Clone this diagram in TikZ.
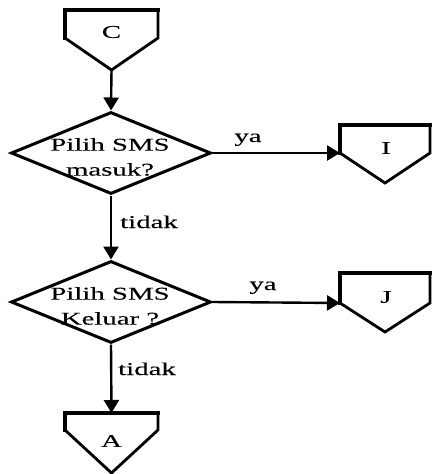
\documentclass[tikz,border=0pt]{standalone}
\usepackage{fontspec}
\setmainfont{Liberation Serif}
\newfontfamily\widefont[FakeStretch=1.6,FakeBold=0.2]{Liberation Serif}
\usetikzlibrary{shapes.geometric,arrows.meta}

\tikzset{
  conn/.style={line width=2.4pt, -{Triangle[length=13pt,width=15pt]}},
  dec/.style={diamond, draw, line width=3pt, minimum width=200pt,
              minimum height=82pt, inner sep=0pt},
  txt/.style={font=\widefont\fontsize{18}{25}\selectfont, align=center, inner sep=0pt},
  lbl/.style={font=\widefont\fontsize{18}{20}\selectfont, inner sep=0pt},
  pent/.style={line width=2.8pt, line join=miter},
  pentedge/.style={line width=4.5pt, line cap=rect},
}

% off-page connector: name, left x, right x, top y, corner y, tip y
\newcommand\offpage[6]{%
  \coordinate (#1-nw) at (#2,#4);
  \coordinate (#1-ne) at (#3,#4);
  \coordinate (#1-se) at (#3,#5);
  \coordinate (#1-sw) at (#2,#5);
  \coordinate (#1-tip) at ({(#2+#3)/2},#6);
  \coordinate (#1-top) at ({(#2+#3)/2},#4);
  \draw[pent] (#1-nw) -- (#1-ne) -- (#1-se) -- (#1-tip) -- (#1-sw) -- cycle;
  \draw[pentedge] (#1-sw) -- (#1-nw) -- (#1-ne);
}

\begin{document}
\begin{tikzpicture}[x=1pt, y=-1pt]
  \useasboundingbox (0,0) rectangle (432,474);

  % connectors to other pages
  \offpage{C}{65}{158}{10}{38}{70}
  \offpage{I}{340}{430}{125}{153}{183}
  \offpage{J}{340}{430}{273}{303}{332}
  \offpage{A}{65}{158}{413}{430}{473}
  \node[txt] (Ct) at (111.5,32) {C};
  \node[txt] (It) at (386,148) {I};
  \node[txt] (Jt) at (386,297) {J};
  \node[txt] (At) at (111.5,441) {A};

  % decisions
  \node[dec] (D1) at (111,153) {};
  \node[txt] (D1t) at (110,157) {Pilih SMS\\masuk?};
  \node[dec] (D2) at (111,302) {};
  \node[txt] (D2t) at (110,306) {Pilih SMS\\Keluar ?};

  % flow
  \draw[conn] (C-tip) -- (D1.north);
  \draw[conn] (D1.east) -- (I-sw);
  \draw[conn] (D1.south) -- (D2.north);
  \draw[conn] (D2.east) -- (J-sw);
  \draw[conn] (D2.south) -- (A-top);

  % branch labels
  \node[lbl, anchor=base] (ya1) at (248,142) {ya};
  \node[lbl, anchor=base] (ya2) at (263,290) {ya};
  \node[lbl, anchor=base west] (td1) at (120,228) {tidak};
  \node[lbl, anchor=base west] (td2) at (118,375) {tidak};
\end{tikzpicture}
\end{document}
